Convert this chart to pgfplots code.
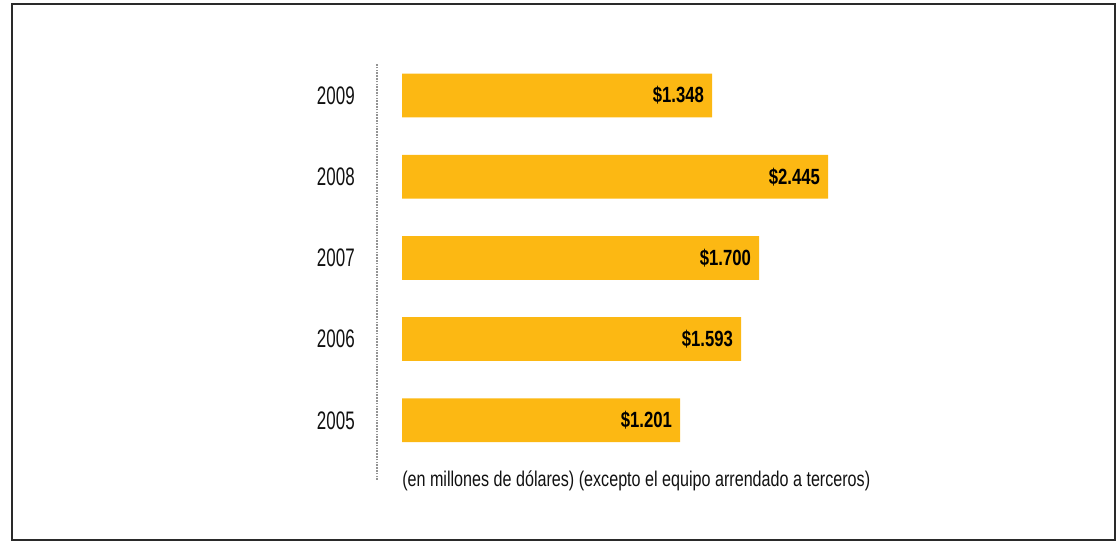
\documentclass[border=0pt]{standalone}
\usepackage{fontspec}
\usepackage{pgfplots}
\pgfplotsset{compat=1.18}
\usepackage{pgfplotstable}
\setmainfont{Liberation Sans}
\newfontfamily\yearfont[FakeStretch=0.67]{Liberation Sans}
\newfontfamily\valfont[FakeStretch=0.76]{Liberation Sans}
\newfontfamily\capfont[FakeStretch=0.756]{Liberation Sans}
\definecolor{barcol}{HTML}{FCB813}
\definecolor{txt}{HTML}{111111}
\definecolor{frame}{HTML}{2A2A2A}
% bar lengths as drawn (pixels from the bar start), label = printed value
\pgfplotstableread{
y len label
0 278 {\$1.201}
1 339 {\$1.593}
2 357 {\$1.700}
3 426 {\$2.445}
4 310 {\$1.348}
}\capexdata
\begin{document}
\begin{tikzpicture}[x=1pt,y=1pt]
\useasboundingbox (0,0) rectangle (840,405.75);
\draw[frame, line width=1.5pt] (9,0.75) rectangle (836.25,402.9);
\begin{axis}[
  at={(282.75pt,45.75pt)}, anchor=south west,
  scale only axis, width=543.75pt, height=312pt,
  xbar, bar width=32.8pt,
  xmin=-25, xmax=700,
  ymin=-0.735, ymax=4.388,
  axis x line=none,
  axis y line=left,
  y axis line style={-, draw=gray!85, line width=1.4pt, dash pattern=on 1.2pt off 0.9pt},
  ytick={0,1,2,3,4},
  yticklabels={2005,2006,2007,2008,2009},
  major tick length=0pt,
  yticklabel style={anchor=east, inner sep=0pt, xshift=-16.5pt, font=\yearfont\fontsize{19}{22}\selectfont, text=txt},
  point meta=explicit symbolic,
  nodes near coords,
  nodes near coords style={anchor=east, inner sep=0pt, xshift=-5.8pt, font=\valfont\bfseries\fontsize{16.5}{19}\selectfont, text=black},
  clip=false,
]
\addplot[fill=barcol, draw=none] table[x=len, y=y, meta=label] {\capexdata};
\end{axis}
\node[anchor=base west, inner sep=0pt, text=txt, font=\capfont\fontsize{16}{19}\selectfont] at (301.5,40.5) {(en millones de dólares) (excepto el equipo arrendado a terceros)};
\end{tikzpicture}
\end{document}
